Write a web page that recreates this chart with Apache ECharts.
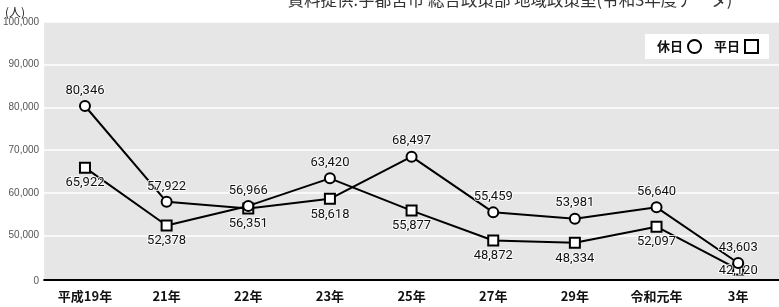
<!DOCTYPE html>
<html>
<head>
<meta charset="utf-8">
<script src="https://cdn.jsdelivr.net/npm/echarts@6/dist/echarts.min.js"></script>
<style>
  html, body { margin: 0; padding: 0; background: #fff; }
  #chart { width: 779px; height: 307px; }
</style>
</head>
<body>
<div id="chart"></div>
<script>
// 年度
const categories = ['平成19年', '21年', '22年', '23年', '25年', '27年', '29年', '令和元年', '3年']
// 休日(○)・平日(□)の人数
const holiday = [80346, 57922, 56966, 63420, 68497, 55459, 53981, 56640, 43603]
const weekday = [65922, 52378, 56351, 58618, 55877, 48872, 48334, 52097, 42120]
// 図の折れ線のつながり（元図のまま、途中で入れ替わる）
const lineA = [80346, 57922, 56351, 58618, 68497, 55459, 53981, 56640, 43603]
const lineB = [65922, 52378, 56966, 63420, 55877, 48872, 48334, 52097, 42120]
// y軸の目盛り
const yTicks = [0, 50000, 60000, 70000, 80000, 90000, 100000]

const fmt = (v) => v.toLocaleString('en-US')
const numFont = "Roboto, 'Liberation Sans', sans-serif"
const jpFont = "'Noto Sans CJK JP', sans-serif"

let mychart = echarts.init(document.getElementById('chart'))

const labelBase = {
  show: true,
  formatter: (p) => fmt(p.value),
  color: '#111',
  fontFamily: numFont,
  fontSize: 13,
  textBorderColor: 'rgba(255,255,255,0.8)',
  textBorderWidth: 2,
}

const markerStyle = { color: '#fff', borderColor: '#000', borderWidth: 2 }

// ラベルが x軸の線にかからないように
const keepAboveAxis = (params) => {
  const r = params.labelRect
  const over = r.y + r.height - 278
  return over > 0 ? { dy: -over } : {}
}

var option = {
  animation: false,
  grid: {
    left: 43,
    right: -4,
    top: 22,
    bottom: 27,
    show: true,
    backgroundColor: '#e6e6e6',
    borderWidth: 0,
  },
  graphic: [
    {
      type: 'text',
      left: 5,
      top: 6,
      style: { text: '(人)', fontFamily: jpFont, fontSize: 12, fill: '#222' },
    },
    {
      type: 'text',
      x: 510,
      y: 8,
      style: {
        text: '資料提供:宇都宮市 総合政策部 地域政策室(令和3年度データ)',
        fontFamily: jpFont,
        fontSize: 16.5,
        fill: '#333',
        textAlign: 'center',
        textVerticalAlign: 'bottom',
      },
    },
  ],
  legend: {
    right: 10,
    top: 34,
    align: 'right',
    backgroundColor: '#fff',
    padding: [5, 10, 5, 12],
    itemGap: 12,
    itemWidth: 13,
    itemHeight: 13,
    textStyle: { fontFamily: jpFont, fontWeight: 'bold', fontSize: 13, color: '#111' },
    data: [
      { name: '休日', icon: 'circle' },
      { name: '平日', icon: 'rect' },
    ],
    itemStyle: markerStyle,
  },
  xAxis: {
    type: 'category',
    data: categories,
    axisTick: { show: false },
    axisLine: { lineStyle: { color: '#000', width: 2 } },
    axisLabel: {
      color: '#111',
      fontFamily: jpFont,
      fontWeight: 'bold',
      fontSize: 13,
      margin: 10,
    },
  },
  yAxis: {
    type: 'value',
    min: 0,
    max: 100000,
    interval: 10000,
    breaks: [{ start: 400, end: 40035, gap: 0 }],
    breakArea: { show: false },
    axisLine: { show: false },
    axisTick: { show: false },
    axisLabel: {
      color: '#555',
      fontFamily: "'Liberation Sans', sans-serif",
      fontSize: 10,
      margin: 5,
      showMinLabel: true,
      formatter: (v) => (v <= 400 ? '0' : yTicks.includes(v) ? fmt(v) : ''),
    },
    splitLine: { lineStyle: { color: '#fff', width: 1.5 } },
  },
  series: [
    {
      type: 'line',
      data: lineA,
      symbol: 'none',
      lineStyle: { color: '#000', width: 2 },
      z: 2,
    },
    {
      type: 'line',
      data: lineB,
      symbol: 'none',
      lineStyle: { color: '#000', width: 2 },
      z: 2,
    },
    {
      name: '休日',
      type: 'line',
      data: holiday,
      symbol: 'circle',
      symbolSize: 10,
      itemStyle: markerStyle,
      lineStyle: { width: 0, opacity: 0 },
      label: { ...labelBase, position: 'top', distance: 3 },
      z: 4,
    },
    {
      name: '平日',
      type: 'line',
      data: weekday,
      symbol: 'rect',
      symbolSize: 10,
      itemStyle: markerStyle,
      lineStyle: { width: 0, opacity: 0 },
      label: { ...labelBase, position: 'bottom', distance: 3 },
      labelLayout: keepAboveAxis,
      z: 3,
    },
  ],
}

mychart.setOption(option)
</script>
</body>
</html>
